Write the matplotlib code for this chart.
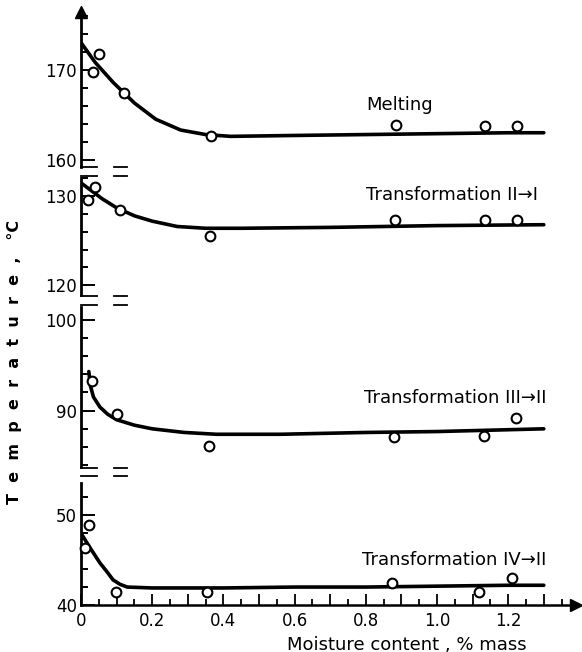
import matplotlib
matplotlib.use("Agg")
import matplotlib.pyplot as plt
from matplotlib.ticker import MultipleLocator, FuncFormatter
from matplotlib.lines import Line2D

plt.rcParams['font.family'] = ['DejaVu Sans']

# ---- data ----
# Melting
melt_x = [0.034, 0.05, 0.12, 0.366, 0.884, 1.136, 1.225]
melt_y = [169.7, 171.7, 167.4, 162.6, 163.9, 163.8, 163.8]
melt_cx = [0.0, 0.04, 0.09, 0.15, 0.21, 0.28, 0.35, 0.42, 0.6, 0.8, 1.0, 1.2, 1.3]
melt_cy = [173.0, 170.8, 168.6, 166.3, 164.5, 163.3, 162.8, 162.6, 162.7, 162.8, 162.9, 163.0, 163.0]

# Transformation II -> I
t21_x = [0.02, 0.039, 0.109, 0.363, 0.881, 1.136, 1.225]
t21_y = [129.55, 131.0, 128.5, 125.5, 127.3, 127.3, 127.3]
t21_cx = [0.0, 0.03, 0.06, 0.1, 0.15, 0.2, 0.27, 0.35, 0.45, 0.7, 1.0, 1.3]
t21_cy = [131.5, 130.6, 129.7, 128.7, 127.8, 127.2, 126.6, 126.4, 126.4, 126.5, 126.7, 126.8]

# Transformation III -> II
t32_x = [0.03, 0.10, 0.359, 0.878, 1.133, 1.223]
t32_y = [93.3, 89.6, 86.1, 87.1, 87.2, 89.2]
t32_cx = [0.022, 0.026, 0.035, 0.053, 0.075, 0.1, 0.15, 0.2, 0.29, 0.38, 0.56, 0.8, 1.0, 1.2, 1.3]
t32_cy = [94.3, 92.8, 91.5, 90.4, 89.6, 89.0, 88.4, 88.0, 87.6, 87.4, 87.4, 87.6, 87.7, 87.9, 88.0]

# Transformation IV -> II
t42_x = [0.011, 0.023, 0.098, 0.353, 0.873, 1.119, 1.211]
t42_y = [46.3, 48.9, 41.4, 41.4, 42.4, 41.4, 43.0]
t42_cx = [0.0, 0.025, 0.053, 0.075, 0.09, 0.11, 0.13, 0.2, 0.4, 0.6, 0.8, 1.0, 1.2, 1.3]
t42_cy = [48.0, 46.4, 44.7, 43.6, 42.8, 42.3, 42.0, 41.9, 41.9, 42.0, 42.0, 42.1, 42.2, 42.2]

labels = ["Melting", "Transformation II→I", "Transformation III→II", "Transformation IV→II"]
label_pos = [(0.80, 166.1), (0.80, 130.1), (0.795, 91.4), (0.79, 45.0)]
ylims = [(159.2, 176.4), (118.9, 132.05), (83.8, 101.4), (40.0, 53.6)]
x_tick_labels = ["0", "0.2", "0.4", "0.6", "0.8", "1.0", "1.2"]

W, H = 582, 652
fig = plt.figure(figsize=(W / 100, H / 100), dpi=100)

# panel geometry in pixels (top, bottom)
panels_px = [(12, 167), (178, 295), (307, 467), (483, 605)]
left_px = 81
px_per_unit = 356
xmax = 1.39

series = [(melt_x, melt_y, melt_cx, melt_cy),
          (t21_x, t21_y, t21_cx, t21_cy),
          (t32_x, t32_y, t32_cx, t32_cy),
          (t42_x, t42_y, t42_cx, t42_cy)]

axes = []
for i, ((top, bot), (px, py, cx, cy)) in enumerate(zip(panels_px, series)):
    ax = fig.add_axes([left_px / W, 1 - bot / H, xmax * px_per_unit / W, (bot - top) / H])
    ax.set_xlim(0, xmax)
    ax.set_ylim(*ylims[i])
    ax.patch.set_alpha(0)
    for s in ['top', 'right']:
        ax.spines[s].set_visible(False)
    ax.spines['left'].set_linewidth(2.0)
    if i < 3:
        ax.spines['bottom'].set_visible(False)
        ax.tick_params(axis='x', which='both', bottom=False, labelbottom=False)
    else:
        ax.spines['bottom'].set_linewidth(1.8)
    ax.yaxis.set_major_locator(MultipleLocator(10))
    ax.yaxis.set_minor_locator(MultipleLocator(2))
    ax.tick_params(axis='y', which='major', direction='in', length=10, width=1.4,
                   labelsize=12, pad=3)
    ax.tick_params(axis='y', which='minor', direction='in', length=5, width=1.4)
    ax.plot(cx, cy, color='black', lw=2.6, solid_capstyle='round', zorder=3)
    ax.plot(px, py, 'o', ms=7, mfc='white', mec='black', mew=1.5, zorder=4, clip_on=False)
    ax.text(label_pos[i][0], label_pos[i][1], labels[i], fontsize=13, ha='left', va='center')
    axes.append(ax)

# x axis on the bottom panel
axb = axes[3]
axb.xaxis.set_major_locator(MultipleLocator(0.1))
axb.xaxis.set_minor_locator(MultipleLocator(0.05))
def fmt(v, pos):
    k = int(round(v * 10))
    if k % 2 == 0 and 0 <= k <= 12:
        return x_tick_labels[k // 2]
    return ""
axb.xaxis.set_major_formatter(FuncFormatter(fmt))
axb.tick_params(axis='x', which='major', direction='in', length=8, width=1.3, labelsize=12, pad=5)
axb.tick_params(axis='x', which='minor', direction='in', length=4.5, width=1.3)
axb.set_xlabel("Moisture content , % mass", fontsize=13, labelpad=1)
axb.xaxis.set_label_coords(0.659, -0.25)
axb.plot(1, 0, '>', color='black', ms=8, transform=axb.transAxes, clip_on=False)

# arrow on top of the y axis
axes[0].plot(0, 1, '^', color='black', ms=8, transform=axes[0].transAxes, clip_on=False)

# break marks (figure pixel coordinates)
def hseg(x0, x1, y):
    fig.add_artist(Line2D([x0 / W, x1 / W], [1 - y / H, 1 - y / H], color='black',
                          lw=1.3, transform=fig.transFigure))
for y in [167, 176, 296, 305, 468, 476]:
    hseg(81, 97, y)
    hseg(114, 127, y)

fig.text(15 / W, 1 - 362 / H, "T  e  m  p  e  r  a  t  u  r  e  ,   °C", rotation=90,
         fontsize=11.5, fontweight='bold', ha='center', va='center')

fig.savefig("out.png", dpi=100)
